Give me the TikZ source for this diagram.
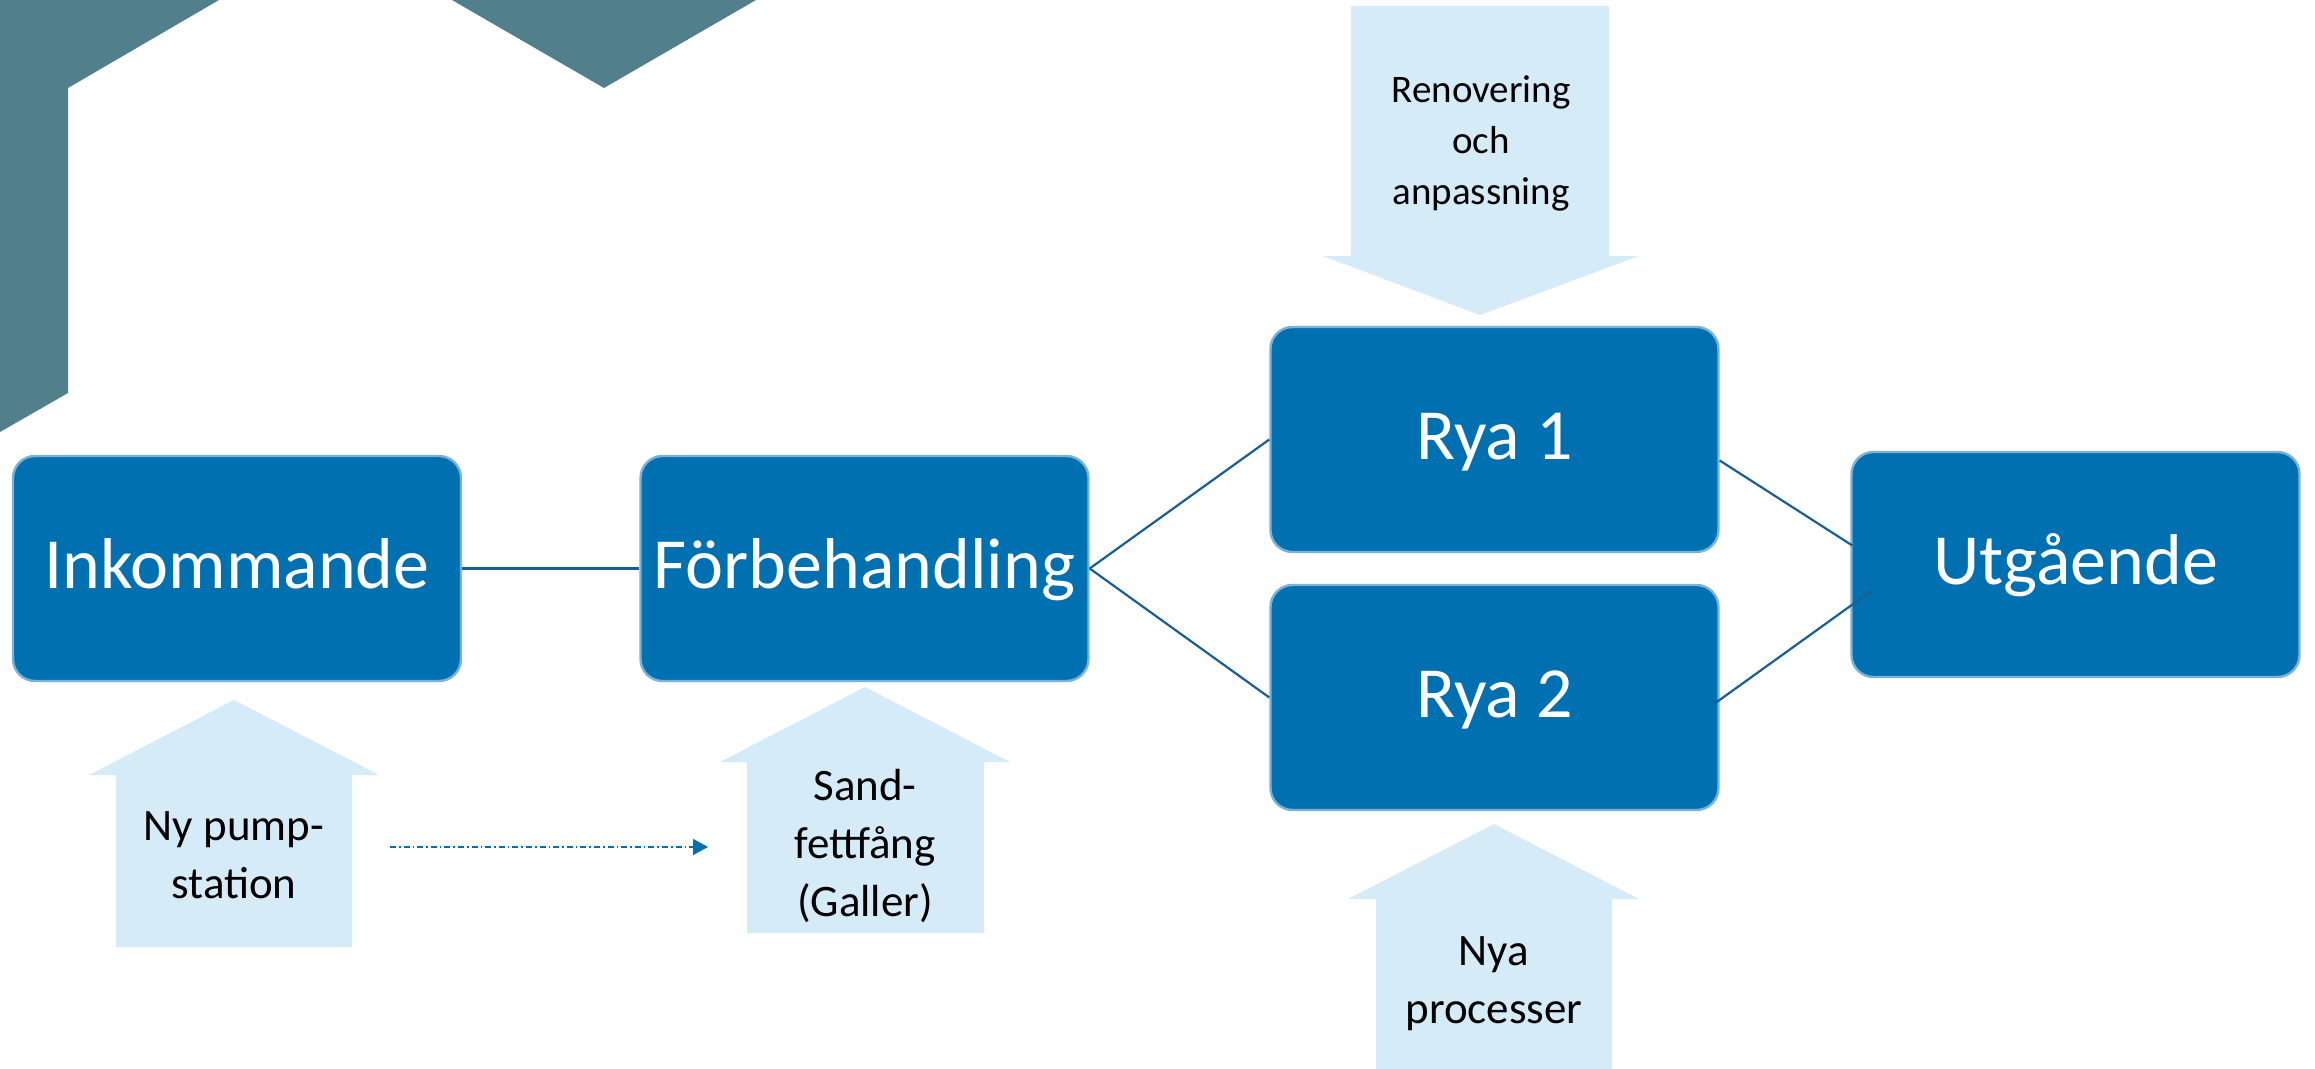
\documentclass[tikz,border=0pt]{standalone}
\usepackage{fontspec}
\setmainfont{Carlito}
\usetikzlibrary{arrows.meta,calc}
\definecolor{tealshape}{RGB}{81,127,139}
\definecolor{boxblue}{RGB}{0,112,176}
\definecolor{boxedge}{RGB}{125,178,216}
\definecolor{arrowfill}{RGB}{214,235,248}
\definecolor{linkblue}{RGB}{24,96,148}
\definecolor{dashblue}{RGB}{0,112,176}
\begin{document}
\begin{tikzpicture}[x=0.5pt,y=-0.5pt,
  stage/.style={draw=boxedge, line width=1.2pt, fill=boxblue, rounded corners=11pt,
    minimum width=224pt, minimum height=112.5pt, text=white,
    font=\fontsize{36}{43}\selectfont, inner sep=0pt, text height=20pt, text depth=0pt},
  note/.style={align=center, font=\fontsize{22.5}{29}\selectfont, text=black, inner sep=0pt},
  notesmall/.style={align=center, font=\fontsize{19.5}{25.5}\selectfont, text=black, inner sep=0pt},
  bigarrow/.style={fill=arrowfill},
  link/.style={draw=linkblue, line width=1.1pt},
  dashlink/.style={draw=dashblue, line width=0.8pt,
    dash pattern=on 3pt off 1.5pt on 0.8pt off 1.5pt,
    -{Triangle[length=7.5pt,width=8pt]}}]
\useasboundingbox (0,0) rectangle (2315,1069);
\fill[white] (0,0) rectangle (2315,1069);

% decorative teal shapes
\fill[tealshape] (0,0) -- (219,0) -- (68,88) -- (68,393) -- (0,432) -- cycle;
\fill[tealshape] (452,0) -- (604,88) -- (756,0) -- cycle;

% block arrows
\fill[bigarrow] (116,947) -- (116,775) -- (89,775) -- (234,700) -- (379,775) -- (352,775) -- (352,947) -- cycle;
\fill[bigarrow] (747,933) -- (747,762) -- (720,762) -- (865,687) -- (1010,762) -- (984,762) -- (984,933) -- cycle;
\fill[bigarrow] (1351,6) -- (1609,6) -- (1609,256) -- (1639,256) -- (1480,315) -- (1323,256) -- (1351,256) -- cycle;
\fill[bigarrow] (1376,1069) -- (1376,899) -- (1348,899) -- (1494,824) -- (1639,899) -- (1612,899) -- (1612,1069) -- cycle;

% arrow labels
\node[note] (pump) at (234,855) {Ny pump-\\station};
\node[note] (sand) at (865,846) {Sand-\\fettfång\\(Galler)};
\node[notesmall] (renov) at (1481,143) {Renovering\\och\\anpassning};
\node[note] (nya) at (1494,984) {Nya\\processer};

% stages
\node[stage] (ink) at (237,568.5) {Inkommande};
\node[stage] (forb) at (864.5,568.5) {Förbehandling};
\node[stage] (rya1) at (1494.5,439.5) {Rya 1};
\node[stage] (rya2) at (1494.5,697.5) {Rya 2};
\node[stage] (utg) at (2075.5,564.5) {Utgående};

% connectors
\draw[link] (ink.east) -- (forb.west);
\draw[link] (forb.east) -- (rya1.west);
\draw[link] (forb.east) -- (rya2.west);
\draw[link] ($(rya1.east)+(0,21)$) -- ($(utg.west)+(2,-19)$);
\draw[link] ($(rya2.east)+(-5,6)$) -- ($(utg.west)+(23,25)$);

% dash-dot arrow
\coordinate (dstart) at (390,847);
\coordinate (dend) at (708,847);
\draw[dashlink] (dstart) -- (dend);
\end{tikzpicture}
\end{document}
